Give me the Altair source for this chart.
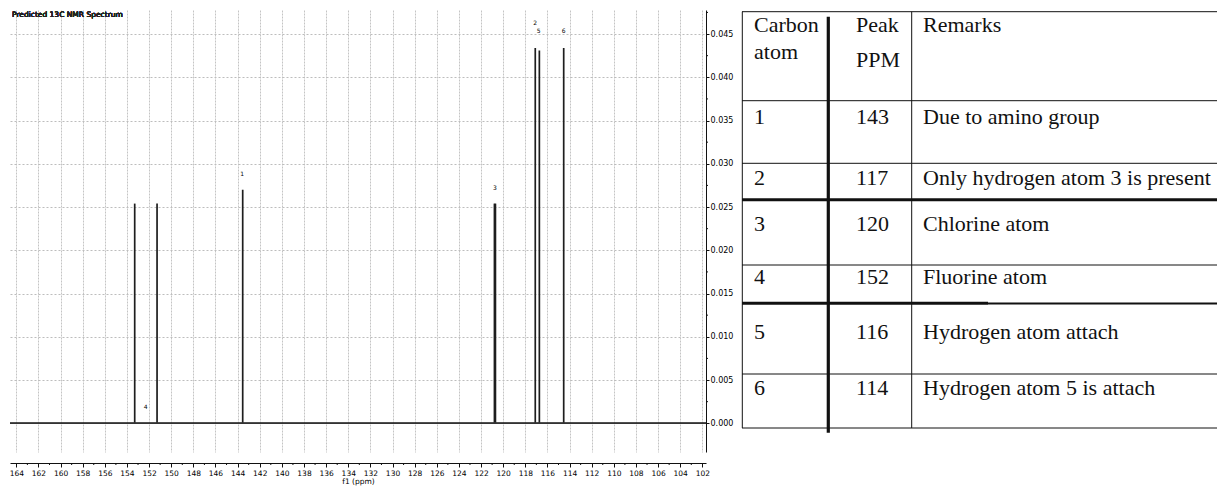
import altair as alt
import pandas as pd

# ---------------- spectrum data ----------------
peak_ppm = [153.30, 151.28, 143.54, 120.79, 120.70, 117.10, 116.73, 114.53]
peak_height = [0.0254, 0.0254, 0.0270, 0.0254, 0.0254, 0.0434, 0.0431, 0.0434]

label_text = ["4", "1", "3", "2", "5", "6"]
label_ppm = [152.31, 143.60, 120.74, 117.10, 116.79, 114.53]
label_int = [0.0019, 0.0288, 0.0272, 0.0463, 0.0454, 0.0453]

x_major = list(range(164, 101, -2))
x_minor = list(range(163, 102, -2))
y_major = [round(i * 0.005, 3) for i in range(0, 10)]
y_minor = [round(0.0025 + i * 0.005, 4) for i in range(0, 10)]

# ---------------- table data ----------------
header_text = ["Carbon", "atom", "Peak", "PPM", "Remarks"]
carbon_atom = ["1", "2", "3", "4", "5", "6"]
table_ppm = ["143", "117", "120", "152", "116", "114"]
remarks = [
    "Due to amino group",
    "Only hydrogen atom 3 is present",
    "Chlorine atom",
    "Fluorine atom",
    "Hydrogen atom attach",
    "Hydrogen atom 5 is attach",
]

# layout of the table (pixels, relative to plot origin)
OX, OY = 10, 10
W, H = 696, 442
header_x = [754, 754, 856, 856, 923]
header_y = [31.7, 59.3, 31.7, 66.7, 31.7]
row_y = [124, 185, 230.7, 284.3, 339.3, 394.5]
col_x = [754, 856, 923]

hlines = [  # x1, x2, y, width
    (742, 1220, 11.7, 1), (742, 1220, 100.7, 1), (742, 1220, 163.3, 1),
    (742, 1220, 199.7, 3), (742, 1220, 265, 1), (742, 988, 303.3, 3),
    (988, 1220, 303.5, 2), (742, 1220, 374, 1), (742, 1220, 428, 1),
]
vlines = [  # x, y1, y2, width
    (742.3, 11.7, 428, 1), (828.3, 16.7, 432.7, 3.2), (911.7, 11.7, 428, 1),
]

peaks_df = pd.DataFrame({"ppm": peak_ppm, "h": peak_height})
labels_df = pd.DataFrame({"ppm": label_ppm, "y": label_int, "t": label_text})
xminor_df = pd.DataFrame({"ppm": x_minor})
yminor_df = pd.DataFrame({"v": y_minor})

xs = alt.Scale(domain=[101.67, 164.57], reverse=True, nice=False, zero=False)
ys = alt.Scale(domain=[-0.00332, 0.04778], nice=False, zero=False)

x_axis = alt.Axis(
    values=x_major, title="f1 (ppm)", orient="bottom", offset=11,
    labelFont="DejaVu Sans", labelFontSize=7.5, labelColor="#000", labelPadding=2,
    titleFont="DejaVu Sans", titleFontSize=7.5, titleFontWeight="normal",
    titleColor="#000", titlePadding=1,
    tickSize=4, tickColor="#111", domainColor="#111",
    grid=True, gridColor="#c4c4c4", gridDash=[2, 1],
    labelFlush=False, labelOverlap=False, labelSeparation=0, format="d",
)
y_axis = alt.Axis(
    values=y_major, orient="right", title=None, format=".3f",
    labelFont="DejaVu Sans", labelFontSize=8, labelColor="#000", labelPadding=1,
    tickSize=3, tickColor="#111", domainColor="#111",
    grid=True, gridColor="#bdbdbd", gridDash=[2, 2],
    labelOverlap=False,
)

peaks = alt.Chart(peaks_df).mark_rule(color="#1e1e1e", strokeWidth=1.7).encode(
    x=alt.X("ppm:Q", scale=xs, axis=x_axis),
    y=alt.Y("h:Q", scale=ys, axis=y_axis),
    y2=alt.datum(0),
)
baseline = alt.Chart(peaks_df).mark_rule(color="#333", strokeWidth=1).encode(
    y=alt.Y(datum=0, axis=y_axis),
)
peak_labels = alt.Chart(labels_df).mark_text(
    font="DejaVu Sans", fontSize=6, color="#000", baseline="middle", align="center"
).encode(
    x=alt.X("ppm:Q", axis=x_axis),
    y=alt.Y("y:Q", axis=y_axis),
    text="t:N",
)

x_minor_ticks = alt.Chart(xminor_df).mark_rule(color="#111", strokeWidth=1).encode(
    x=alt.X("ppm:Q", axis=x_axis), y=alt.value(H + 11), y2=alt.value(H + 13),
)
y_minor_ticks = alt.Chart(yminor_df).mark_rule(color="#111", strokeWidth=1).encode(
    y=alt.Y("v:Q", axis=y_axis), x=alt.value(W), x2=alt.value(W + 2),
)

title_txt = alt.Chart(peaks_df).mark_text(
    font="DejaVu Sans", fontSize=7.5, color="#222", align="left", baseline="middle"
).encode(x=alt.value(2), y=alt.value(5), text=alt.value("Predicted 13C NMR Spectrum"))

spectrum = alt.layer(peaks, baseline, peak_labels, x_minor_ticks, y_minor_ticks, title_txt)

# ---------------- table layers ----------------
lines_df = pd.DataFrame(
    [{"x": a - OX, "x2": b - OX, "y": c - OY, "y2": c - OY, "w": w} for a, b, c, w in hlines]
    + [{"x": a - OX, "x2": a - OX, "y": b - OY, "y2": c - OY, "w": w} for a, b, c, w in vlines]
)
table_lines = alt.Chart(lines_df).mark_rule(color="#111").encode(
    x=alt.X("x:Q", scale=None, axis=None),
    x2="x2:Q",
    y=alt.Y("y:Q", scale=None, axis=None),
    y2="y2:Q",
    strokeWidth=alt.StrokeWidth("w:Q", scale=None, legend=None),
)

rows = []
for t, x, y in zip(header_text, header_x, header_y):
    rows.append({"t": t, "x": x - OX, "y": y - OY})
for i in range(len(carbon_atom)):
    for t, x in zip([carbon_atom[i], table_ppm[i], remarks[i]], col_x):
        rows.append({"t": t, "x": x - OX, "y": row_y[i] - OY})
text_df = pd.DataFrame(rows)
table_text = alt.Chart(text_df).mark_text(
    font="Liberation Serif", fontSize=22, color="#111", align="left", baseline="alphabetic"
).encode(
    x=alt.X("x:Q", scale=None, axis=None),
    y=alt.Y("y:Q", scale=None, axis=None),
    text="t:N",
)
table = alt.layer(table_lines, table_text)

chart = alt.layer(spectrum, table).resolve_scale(
    x="independent", y="independent"
).properties(
    width=W, height=H,
    padding={"left": 10, "top": 10, "right": 511, "bottom": 34},
    autosize=alt.AutoSizeParams(type="none"),
    background="white",
).configure_view(stroke=None)

chart.save("out.html", embed_options={"renderer": "svg", "actions": False})
